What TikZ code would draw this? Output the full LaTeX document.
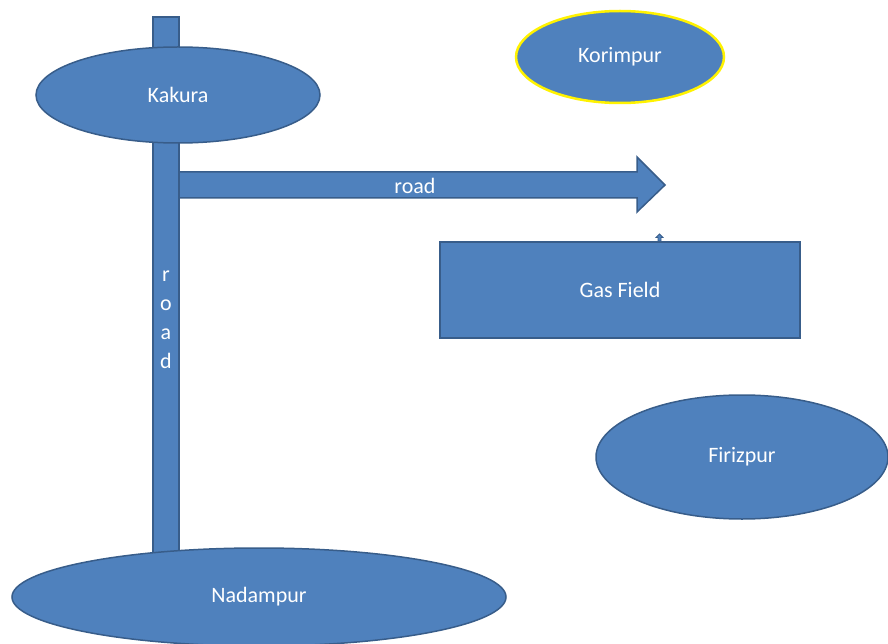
\documentclass[tikz,border=0pt]{standalone}
\usepackage{fontspec}
\setmainfont{Carlito}
\usetikzlibrary{shapes.geometric, positioning}
\definecolor{boxblue}{RGB}{79,129,189}
\definecolor{edgeblue}{RGB}{56,93,138}

\tikzset{
  place/.style={ellipse, draw=edgeblue, line width=1.5pt, fill=boxblue, text=white, inner sep=0pt, font=\fontsize{22}{26}\selectfont},
  block/.style={rectangle, draw=edgeblue, line width=1.5pt, fill=boxblue, text=white, inner sep=0pt, font=\fontsize{22}{26}\selectfont}
}

\begin{document}
\begin{tikzpicture}[x=1pt, y=-1pt]
\useasboundingbox (0,0) rectangle (888,644);
% vertical road
\node[block, minimum width=26pt, minimum height=536pt] (roadv) at (166,285) {};
\node[text=white, align=center, font=\fontsize{22}{29}\selectfont] (roadvtext) at (166,320) {r\\o\\a\\d};
% horizontal road arrow
\filldraw[draw=edgeblue, fill=boxblue, line width=1.5pt, line join=miter]
  (179,172) -- (637,172) -- (637,157) -- (665,185) -- (637,212) -- (637,198) -- (179,198) -- cycle;
\node[text=white, font=\fontsize{22}{26}\selectfont] (roadh) at (415,186) {road};
% towns
\node[place, minimum width=284pt, minimum height=96pt] (kakura) at (178,95) {Kakura};
\node[place, draw=yellow, line width=2.5pt, minimum width=208pt, minimum height=92pt] (korimpur) at (620,57) {Korimpur};
\node[place, minimum width=292pt, minimum height=124pt] (firizpur) at (742,457) {Firizpur};
\node[place, minimum width=494pt, minimum height=98pt] (nadampur) at (259,597) {Nadampur};
% gas field
\node[block, minimum width=360pt, minimum height=96pt] (gasfield) at (620,290) {Gas Field};
\filldraw[draw=edgeblue, fill=boxblue, line width=0.8pt]
  (658,241) -- (658,237.5) -- (656,237.5) -- (659.5,234) -- (663,237.5) -- (661,237.5) -- (661,241) -- cycle;
\end{tikzpicture}
\end{document}
